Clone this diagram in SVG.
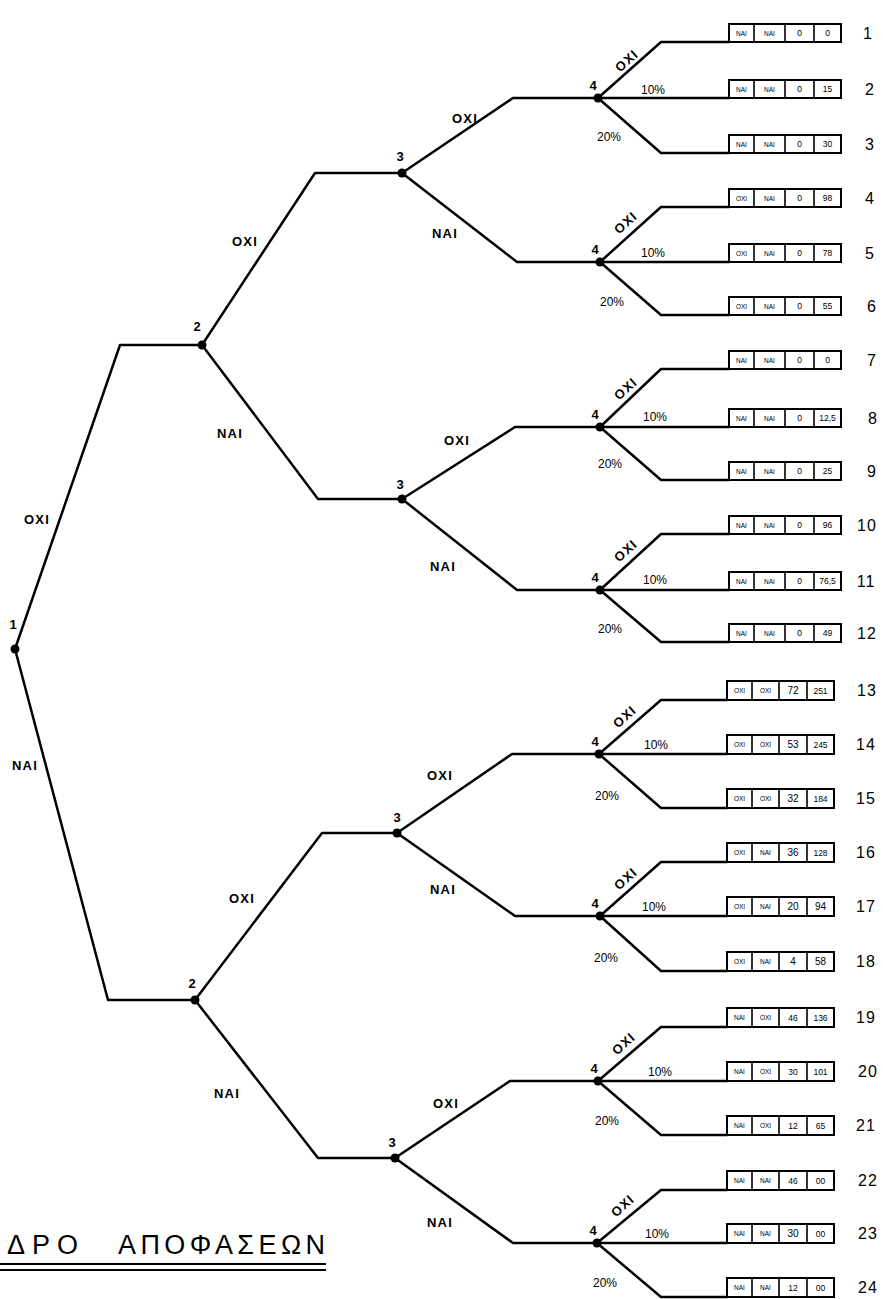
<svg xmlns="http://www.w3.org/2000/svg" width="883" height="1299" viewBox="0 0 883 1299">
<style>
.ln{stroke:#000;stroke-width:2.5;fill:none;stroke-linejoin:round;stroke-linecap:round}
.dot{fill:#000}
.lb{font-family:"Liberation Sans",Arial,sans-serif;font-weight:bold;font-size:13px;letter-spacing:1.2px;fill:#000;text-anchor:middle}
.nn{font-family:"Liberation Sans",Arial,sans-serif;font-weight:bold;font-size:13px;fill:#000;text-anchor:middle}
.pc{font-family:"Liberation Sans",Arial,sans-serif;font-size:12px;fill:#000;text-anchor:middle}
.bx{fill:#fff;stroke:#000;stroke-width:2}
.dv{stroke:#000;stroke-width:1.6}
.ct{font-family:"Liberation Sans",Arial,sans-serif;font-size:6.5px;fill:#000;text-anchor:middle}
.cv{font-family:"Liberation Sans",Arial,sans-serif;font-size:8.5px;fill:#000;text-anchor:middle}
.cw{font-family:"Liberation Sans",Arial,sans-serif;font-size:10px;fill:#000;text-anchor:middle}
.rn{font-family:"Liberation Sans",Arial,sans-serif;font-size:16px;fill:#000;text-anchor:middle;letter-spacing:1px}
.tt{font-family:"Liberation Sans",Arial,sans-serif;font-size:27px;fill:#000}
</style>
<rect width="883" height="1299" fill="#fff"/>

<g id="connectors">
<path class="ln" d="M15 649 L120 345 L202 345"/>
<path class="ln" d="M15 649 L108 1000 L195 1000"/>
<path class="ln" d="M202 345 L315 173 L402 173"/>
<path class="ln" d="M202 345 L318 499 L402 499"/>
<path class="ln" d="M195 1000 L322 833 L397 833"/>
<path class="ln" d="M195 1000 L318 1158 L395 1158"/>
<path class="ln" d="M402 173 L513 98 L598 98"/>
<path class="ln" d="M402 173 L517 262 L600 262"/>
<path class="ln" d="M402 499 L515 427 L600 427"/>
<path class="ln" d="M402 499 L517 590 L600 590"/>
<path class="ln" d="M397 833 L512 754 L599 754"/>
<path class="ln" d="M397 833 L515 916 L600 916"/>
<path class="ln" d="M395 1158 L510 1081 L598 1081"/>
<path class="ln" d="M395 1158 L513 1243 L597 1243"/>
<path class="ln" d="M598 98 L661 42 L729 42 M598 98 L729 98 M598 98 L661 153 L729 153"/>
<path class="ln" d="M600 262 L661 207 L729 207 M600 262 L729 262 M600 262 L661 315 L729 315"/>
<path class="ln" d="M600 427 L661 369 L729 369 M600 427 L729 427 M600 427 L661 480 L729 480"/>
<path class="ln" d="M600 590 L661 534 L729 534 M600 590 L729 590 M600 590 L661 642 L729 642"/>
<path class="ln" d="M599 754 L661 700 L727 700 M599 754 L727 754 M599 754 L661 808 L727 808"/>
<path class="ln" d="M600 916 L661 862 L727 862 M600 916 L727 916 M600 916 L661 971 L727 971"/>
<path class="ln" d="M598 1081 L661 1027 L727 1027 M598 1081 L727 1081 M598 1081 L661 1135 L727 1135"/>
<path class="ln" d="M597 1243 L661 1190 L727 1190 M597 1243 L727 1243 M597 1243 L661 1297 L727 1297"/>
</g>

<g id="edge-labels">
<text class="lb" x="37" y="524">ΟΧΙ</text>
<text class="lb" x="25" y="770">ΝΑΙ</text>
<text class="lb" x="245" y="246">ΟΧΙ</text>
<text class="lb" x="230" y="438">ΝΑΙ</text>
<text class="lb" x="242" y="903">ΟΧΙ</text>
<text class="lb" x="227" y="1098">ΝΑΙ</text>
<text class="lb" x="465" y="123">ΟΧΙ</text>
<text class="lb" x="445" y="238">ΝΑΙ</text>
<text class="lb" x="457" y="445">ΟΧΙ</text>
<text class="lb" x="443" y="571">ΝΑΙ</text>
<text class="lb" x="440" y="780">ΟΧΙ</text>
<text class="lb" x="443" y="894">ΝΑΙ</text>
<text class="lb" x="446" y="1108">ΟΧΙ</text>
<text class="lb" x="440" y="1227">ΝΑΙ</text>
<g id="l4-1"><text class="lb" transform="translate(627 61) rotate(-42)" y="4">ΟΧΙ</text><text class="pc" x="653" y="94">10%</text><text class="pc" x="609" y="141">20%</text></g>
<g id="l4-2"><text class="lb" transform="translate(626 223) rotate(-42)" y="4">ΟΧΙ</text><text class="pc" x="653" y="257">10%</text><text class="pc" x="612" y="306">20%</text></g>
<g id="l4-3"><text class="lb" transform="translate(626 389) rotate(-42)" y="4">ΟΧΙ</text><text class="pc" x="655" y="421">10%</text><text class="pc" x="610" y="468">20%</text></g>
<g id="l4-4"><text class="lb" transform="translate(626 551) rotate(-42)" y="4">ΟΧΙ</text><text class="pc" x="655" y="584">10%</text><text class="pc" x="610" y="633">20%</text></g>
<g id="l4-5"><text class="lb" transform="translate(625 717) rotate(-42)" y="4">ΟΧΙ</text><text class="pc" x="656" y="749">10%</text><text class="pc" x="607" y="800">20%</text></g>
<g id="l4-6"><text class="lb" transform="translate(626 879) rotate(-42)" y="4">ΟΧΙ</text><text class="pc" x="654" y="911">10%</text><text class="pc" x="606" y="962">20%</text></g>
<g id="l4-7"><text class="lb" transform="translate(624 1044) rotate(-42)" y="4">ΟΧΙ</text><text class="pc" x="660" y="1076">10%</text><text class="pc" x="607" y="1125">20%</text></g>
<g id="l4-8"><text class="lb" transform="translate(623 1206) rotate(-42)" y="4">ΟΧΙ</text><text class="pc" x="657" y="1238">10%</text><text class="pc" x="605" y="1287">20%</text></g>
</g>

<g id="n1"><circle class="dot" cx="15" cy="649" r="4.5"/><text class="nn" x="13" y="629">1</text></g>
<g id="n2a"><circle class="dot" cx="202" cy="345" r="4.5"/><text class="nn" x="197" y="331">2</text></g>
<g id="n2b"><circle class="dot" cx="195" cy="1000" r="4.5"/><text class="nn" x="192" y="988">2</text></g>
<g id="n3aa"><circle class="dot" cx="402" cy="173" r="4.5"/><text class="nn" x="400" y="161">3</text></g>
<g id="n3ab"><circle class="dot" cx="402" cy="499" r="4.5"/><text class="nn" x="400" y="489">3</text></g>
<g id="n3ba"><circle class="dot" cx="397" cy="833" r="4.5"/><text class="nn" x="397" y="822">3</text></g>
<g id="n3bb"><circle class="dot" cx="395" cy="1158" r="4.5"/><text class="nn" x="392" y="1147">3</text></g>
<g id="n4-1"><circle class="dot" cx="598" cy="98" r="4.5"/><text class="nn" x="593" y="90">4</text></g>
<g id="n4-2"><circle class="dot" cx="600" cy="262" r="4.5"/><text class="nn" x="595" y="254">4</text></g>
<g id="n4-3"><circle class="dot" cx="600" cy="427" r="4.5"/><text class="nn" x="595" y="419">4</text></g>
<g id="n4-4"><circle class="dot" cx="600" cy="590" r="4.5"/><text class="nn" x="595" y="582">4</text></g>
<g id="n4-5"><circle class="dot" cx="599" cy="754" r="4.5"/><text class="nn" x="595" y="746">4</text></g>
<g id="n4-6"><circle class="dot" cx="600" cy="916" r="4.5"/><text class="nn" x="595" y="908">4</text></g>
<g id="n4-7"><circle class="dot" cx="598" cy="1081" r="4.5"/><text class="nn" x="594" y="1073">4</text></g>
<g id="n4-8"><circle class="dot" cx="597" cy="1243" r="4.5"/><text class="nn" x="593" y="1235">4</text></g>

<g id="leaf-1" transform="translate(0 42)"><rect class="bx" x="729" y="-18" width="112" height="18"/><path class="dv" d="M754 -18V0M785 -18V0M814 -18V0"/><text class="ct" x="741.5" y="-6.5">ΝΑΙ</text><text class="ct" x="769.5" y="-6.5">ΝΑΙ</text><text class="cv" x="799.5" y="-6">0</text><text class="cv" x="827.5" y="-6">0</text><text class="rn" x="868" y="-3">1</text></g>
<g id="leaf-2" transform="translate(0 98)"><rect class="bx" x="729" y="-18" width="112" height="18"/><path class="dv" d="M754 -18V0M785 -18V0M814 -18V0"/><text class="ct" x="741.5" y="-6.5">ΝΑΙ</text><text class="ct" x="769.5" y="-6.5">ΝΑΙ</text><text class="cv" x="799.5" y="-6">0</text><text class="cv" x="827.5" y="-6">15</text><text class="rn" x="870" y="-3">2</text></g>
<g id="leaf-3" transform="translate(0 153)"><rect class="bx" x="729" y="-18" width="112" height="18"/><path class="dv" d="M754 -18V0M785 -18V0M814 -18V0"/><text class="ct" x="741.5" y="-6.5">ΝΑΙ</text><text class="ct" x="769.5" y="-6.5">ΝΑΙ</text><text class="cv" x="799.5" y="-6">0</text><text class="cv" x="827.5" y="-6">30</text><text class="rn" x="870" y="-3">3</text></g>
<g id="leaf-4" transform="translate(0 207)"><rect class="bx" x="729" y="-18" width="112" height="18"/><path class="dv" d="M754 -18V0M785 -18V0M814 -18V0"/><text class="ct" x="741.5" y="-6.5">ΟΧΙ</text><text class="ct" x="769.5" y="-6.5">ΝΑΙ</text><text class="cv" x="799.5" y="-6">0</text><text class="cv" x="827.5" y="-6">98</text><text class="rn" x="870" y="-3">4</text></g>
<g id="leaf-5" transform="translate(0 262)"><rect class="bx" x="729" y="-18" width="112" height="18"/><path class="dv" d="M754 -18V0M785 -18V0M814 -18V0"/><text class="ct" x="741.5" y="-6.5">ΟΧΙ</text><text class="ct" x="769.5" y="-6.5">ΝΑΙ</text><text class="cv" x="799.5" y="-6">0</text><text class="cv" x="827.5" y="-6">78</text><text class="rn" x="870" y="-3">5</text></g>
<g id="leaf-6" transform="translate(0 315)"><rect class="bx" x="729" y="-18" width="112" height="18"/><path class="dv" d="M754 -18V0M785 -18V0M814 -18V0"/><text class="ct" x="741.5" y="-6.5">ΟΧΙ</text><text class="ct" x="769.5" y="-6.5">ΝΑΙ</text><text class="cv" x="799.5" y="-6">0</text><text class="cv" x="827.5" y="-6">55</text><text class="rn" x="872" y="-3">6</text></g>
<g id="leaf-7" transform="translate(0 369)"><rect class="bx" x="729" y="-18" width="112" height="18"/><path class="dv" d="M754 -18V0M785 -18V0M814 -18V0"/><text class="ct" x="741.5" y="-6.5">ΝΑΙ</text><text class="ct" x="769.5" y="-6.5">ΝΑΙ</text><text class="cv" x="799.5" y="-6">0</text><text class="cv" x="827.5" y="-6">0</text><text class="rn" x="872" y="-3">7</text></g>
<g id="leaf-8" transform="translate(0 427)"><rect class="bx" x="729" y="-18" width="112" height="18"/><path class="dv" d="M754 -18V0M785 -18V0M814 -18V0"/><text class="ct" x="741.5" y="-6.5">ΝΑΙ</text><text class="ct" x="769.5" y="-6.5">ΝΑΙ</text><text class="cv" x="799.5" y="-6">0</text><text class="cv" x="827.5" y="-6">12,5</text><text class="rn" x="873" y="-3">8</text></g>
<g id="leaf-9" transform="translate(0 480)"><rect class="bx" x="729" y="-18" width="112" height="18"/><path class="dv" d="M754 -18V0M785 -18V0M814 -18V0"/><text class="ct" x="741.5" y="-6.5">ΝΑΙ</text><text class="ct" x="769.5" y="-6.5">ΝΑΙ</text><text class="cv" x="799.5" y="-6">0</text><text class="cv" x="827.5" y="-6">25</text><text class="rn" x="872" y="-3">9</text></g>
<g id="leaf-10" transform="translate(0 534)"><rect class="bx" x="729" y="-18" width="112" height="18"/><path class="dv" d="M754 -18V0M785 -18V0M814 -18V0"/><text class="ct" x="741.5" y="-6.5">ΝΑΙ</text><text class="ct" x="769.5" y="-6.5">ΝΑΙ</text><text class="cv" x="799.5" y="-6">0</text><text class="cv" x="827.5" y="-6">96</text><text class="rn" x="867" y="-3">10</text></g>
<g id="leaf-11" transform="translate(0 590)"><rect class="bx" x="729" y="-18" width="112" height="18"/><path class="dv" d="M754 -18V0M785 -18V0M814 -18V0"/><text class="ct" x="741.5" y="-6.5">ΝΑΙ</text><text class="ct" x="769.5" y="-6.5">ΝΑΙ</text><text class="cv" x="799.5" y="-6">0</text><text class="cv" x="827.5" y="-6">76,5</text><text class="rn" x="866" y="-3">11</text></g>
<g id="leaf-12" transform="translate(0 642)"><rect class="bx" x="729" y="-18" width="112" height="18"/><path class="dv" d="M754 -18V0M785 -18V0M814 -18V0"/><text class="ct" x="741.5" y="-6.5">ΝΑΙ</text><text class="ct" x="769.5" y="-6.5">ΝΑΙ</text><text class="cv" x="799.5" y="-6">0</text><text class="cv" x="827.5" y="-6">49</text><text class="rn" x="867" y="-3">12</text></g>
<g id="leaf-13" transform="translate(0 700)"><rect class="bx" x="727" y="-19" width="107" height="19"/><path class="dv" d="M752 -19V0M779 -19V0M807 -19V0"/><text class="ct" x="739.5" y="-7">ΟΧΙ</text><text class="ct" x="765.5" y="-7">ΟΧΙ</text><text class="cw" x="793" y="-6">72</text><text class="cv" x="820.5" y="-6.5">251</text><text class="rn" x="867" y="-4">13</text></g>
<g id="leaf-14" transform="translate(0 754)"><rect class="bx" x="727" y="-19" width="107" height="19"/><path class="dv" d="M752 -19V0M779 -19V0M807 -19V0"/><text class="ct" x="739.5" y="-7">ΟΧΙ</text><text class="ct" x="765.5" y="-7">ΟΧΙ</text><text class="cw" x="793" y="-6">53</text><text class="cv" x="820.5" y="-6.5">245</text><text class="rn" x="866" y="-4">14</text></g>
<g id="leaf-15" transform="translate(0 808)"><rect class="bx" x="727" y="-19" width="107" height="19"/><path class="dv" d="M752 -19V0M779 -19V0M807 -19V0"/><text class="ct" x="739.5" y="-7">ΟΧΙ</text><text class="ct" x="765.5" y="-7">ΟΧΙ</text><text class="cw" x="793" y="-6">32</text><text class="cv" x="820.5" y="-6.5">184</text><text class="rn" x="866" y="-4">15</text></g>
<g id="leaf-16" transform="translate(0 862)"><rect class="bx" x="727" y="-19" width="107" height="19"/><path class="dv" d="M752 -19V0M779 -19V0M807 -19V0"/><text class="ct" x="739.5" y="-7">ΟΧΙ</text><text class="ct" x="765.5" y="-7">ΝΑΙ</text><text class="cw" x="793" y="-6">36</text><text class="cv" x="820.5" y="-6.5">128</text><text class="rn" x="866" y="-4">16</text></g>
<g id="leaf-17" transform="translate(0 916)"><rect class="bx" x="727" y="-19" width="107" height="19"/><path class="dv" d="M752 -19V0M779 -19V0M807 -19V0"/><text class="ct" x="739.5" y="-7">ΟΧΙ</text><text class="ct" x="765.5" y="-7">ΝΑΙ</text><text class="cw" x="793" y="-6">20</text><text class="cw" x="820.5" y="-6">94</text><text class="rn" x="866" y="-4">17</text></g>
<g id="leaf-18" transform="translate(0 971)"><rect class="bx" x="727" y="-19" width="107" height="19"/><path class="dv" d="M752 -19V0M779 -19V0M807 -19V0"/><text class="ct" x="739.5" y="-7">ΟΧΙ</text><text class="ct" x="765.5" y="-7">ΝΑΙ</text><text class="cw" x="793" y="-6">4</text><text class="cw" x="820.5" y="-6">58</text><text class="rn" x="866" y="-4">18</text></g>
<g id="leaf-19" transform="translate(0 1027)"><rect class="bx" x="727" y="-19" width="107" height="19"/><path class="dv" d="M752 -19V0M779 -19V0M807 -19V0"/><text class="ct" x="739.5" y="-7">ΝΑΙ</text><text class="ct" x="765.5" y="-7">ΟΧΙ</text><text class="cv" x="793" y="-6.5">46</text><text class="cv" x="820.5" y="-6.5">136</text><text class="rn" x="866" y="-4">19</text></g>
<g id="leaf-20" transform="translate(0 1081)"><rect class="bx" x="727" y="-19" width="107" height="19"/><path class="dv" d="M752 -19V0M779 -19V0M807 -19V0"/><text class="ct" x="739.5" y="-7">ΝΑΙ</text><text class="ct" x="765.5" y="-7">ΟΧΙ</text><text class="cv" x="793" y="-6.5">30</text><text class="cv" x="820.5" y="-6.5">101</text><text class="rn" x="868" y="-4">20</text></g>
<g id="leaf-21" transform="translate(0 1135)"><rect class="bx" x="727" y="-19" width="107" height="19"/><path class="dv" d="M752 -19V0M779 -19V0M807 -19V0"/><text class="ct" x="739.5" y="-7">ΝΑΙ</text><text class="ct" x="765.5" y="-7">ΟΧΙ</text><text class="cv" x="793" y="-6.5">12</text><text class="cv" x="820.5" y="-6.5">65</text><text class="rn" x="866" y="-4">21</text></g>
<g id="leaf-22" transform="translate(0 1190)"><rect class="bx" x="727" y="-19" width="107" height="19"/><path class="dv" d="M752 -19V0M779 -19V0M807 -19V0"/><text class="ct" x="739.5" y="-7">ΝΑΙ</text><text class="ct" x="765.5" y="-7">ΝΑΙ</text><text class="cv" x="793" y="-6.5">46</text><text class="cv" x="820.5" y="-6.5">00</text><text class="rn" x="868" y="-4">22</text></g>
<g id="leaf-23" transform="translate(0 1243)"><rect class="bx" x="727" y="-19" width="107" height="19"/><path class="dv" d="M752 -19V0M779 -19V0M807 -19V0"/><text class="ct" x="739.5" y="-7">ΝΑΙ</text><text class="ct" x="765.5" y="-7">ΝΑΙ</text><text class="cw" x="793" y="-6">30</text><text class="cv" x="820.5" y="-6.5">00</text><text class="rn" x="868" y="-4">23</text></g>
<g id="leaf-24" transform="translate(0 1297)"><rect class="bx" x="727" y="-19" width="107" height="19"/><path class="dv" d="M752 -19V0M779 -19V0M807 -19V0"/><text class="ct" x="739.5" y="-7">ΝΑΙ</text><text class="ct" x="765.5" y="-7">ΝΑΙ</text><text class="cv" x="793" y="-6.5">12</text><text class="cv" x="820.5" y="-6.5">00</text><text class="rn" x="868" y="-4">24</text></g>

<g id="title">
<text class="tt" y="1254"><tspan x="7" textLength="71" lengthAdjust="spacing">ΔΡΟ</tspan><tspan x="118" textLength="207" lengthAdjust="spacing">ΑΠΟΦΑΣΕΩΝ</tspan></text>
<path d="M0 1264H326M0 1270H326" stroke="#000" stroke-width="1.8"/>
</g>
</svg>
